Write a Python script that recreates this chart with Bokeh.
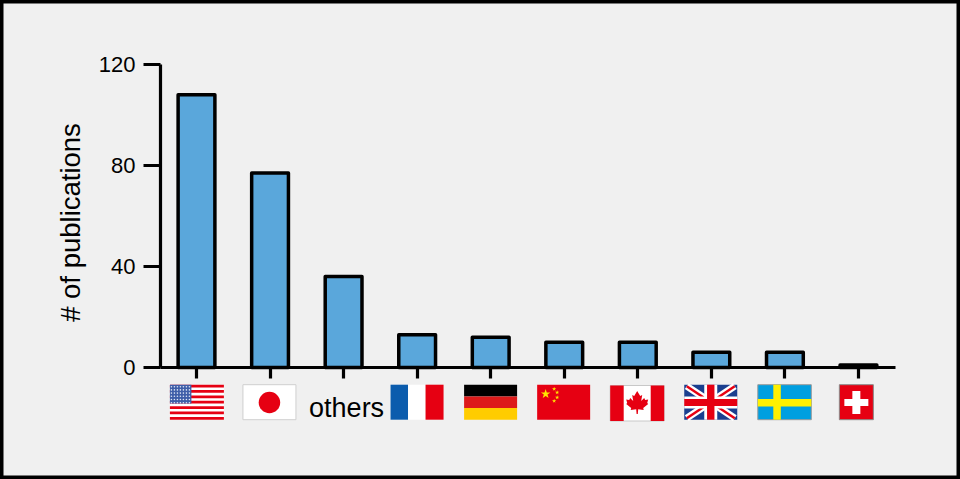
from bokeh.plotting import figure
from bokeh.models import Range1d, LinearAxis, FixedTicker
from bokeh.embed import file_html
from bokeh.resources import INLINE
from bokeh.core.properties import value
import math

countries = ["USA", "Japan", "others", "France", "Germany", "China", "Canada", "UK", "Sweden", "Switzerland"]
publications = [108, 77, 36, 13, 12, 10, 10, 6, 6, 1]
y_ticks = [0, 40, 80, 120]
other_label = "others"
y_title = "# of publications"

BG = "#f0f0f0"; BLUE = "#5aa7db"
W, H = 960, 479
X0, XS = 196.0, 73.55      # pixel of index 0, pixels per index
Y0, YS = 367.0, 2.525      # pixel of value 0, pixels per value

p = figure(width=W, height=H, output_backend="svg", toolbar_location=None,
           x_range=Range1d(-X0 / XS, (W - X0) / XS),
           y_range=Range1d(-(H - Y0) / YS, Y0 / YS),
           min_border=0, min_border_left=0, min_border_right=0, min_border_top=0, min_border_bottom=0,
           x_axis_type=None, y_axis_type=None, background_fill_color=BG, border_fill_color=BG)
p.grid.visible = False
p.outline_line_color = "black"
p.outline_line_width = 6

p.vbar(x=list(range(len(publications))), top=publications, bottom=0, width=0.5,
       fill_color=BLUE, line_color="black", line_width=3.5, line_join="round")

yaxis = LinearAxis(fixed_location=-36 / XS, ticker=FixedTicker(ticks=y_ticks), bounds=(0, 120),
                   axis_line_width=3.2, axis_line_color="black",
                   major_tick_line_width=3.2, major_tick_line_color="black",
                   major_tick_in=0, major_tick_out=17, minor_tick_line_color=None,
                   major_label_text_font="Liberation Sans", major_label_text_font_size="22px",
                   major_label_text_color="black", major_label_standoff=8)
p.add_layout(yaxis, "left")

p.text(x=[(70 - X0) / XS], y=[(Y0 - 222) / YS], text=[y_title], angle=math.pi / 2,
       text_font=value("Liberation Sans"), text_font_size="27.5px", text_color="black",
       text_align="center", text_baseline="middle")

xaxis = LinearAxis(fixed_location=0, ticker=FixedTicker(ticks=list(range(len(countries)))),
                   bounds=(-36 / XS, 9.5),
                   major_label_overrides={i: "" for i in range(len(countries))},
                   axis_line_width=3.2, axis_line_color="black",
                   major_tick_line_width=3.2, major_tick_line_color="black",
                   major_tick_in=0, major_tick_out=11, minor_tick_line_color=None)
p.add_layout(xaxis, "below")

p.text(x=[countries.index(other_label)], y=[-(407.5 - Y0) / YS], text=[other_label], x_offset=3,
       text_font=value("Liberation Sans"), text_font_size="27px", text_color="black",
       text_align="center", text_baseline="middle")

# ---- flags: shapes given in pixels relative to the flag's tick -------------
FT, FB = 384.2, 419.2
SHIFT = -0.6

def box(i, dx0, dx1, py0, py1, color, line=None):
    p.quad(left=[i + (dx0 + SHIFT) / XS], right=[i + (dx1 + SHIFT) / XS],
           bottom=[(Y0 - py1) / YS], top=[(Y0 - py0) / YS],
           fill_color=color, line_color=line, line_width=1)

def poly(i, pts, color):
    p.patch([i + (a + SHIFT) / XS for a, b in pts], [(Y0 - b) / YS for a, b in pts],
            fill_color=color, line_color=None)

RED = "#e60012"
# USA
i = 0
box(i, -26, 28, FT, FB, "white")
for s in range(0, 13, 2):
    h = (FB - FT) / 13
    box(i, -26, 28, FT + s * h, FT + (s + 1) * h, RED)
box(i, -26, -4.5, FT, FT + 7 * (FB - FT) / 13, "#3f5ea8")
sx, sy = [], []
for r in range(6):
    for c in range(7):
        sx.append(i + (-24.5 + SHIFT + c * 3.0) / XS)
        sy.append((Y0 - (FT + 2 + r * 3.2)) / YS)
p.scatter(sx, sy, size=1.6, color="#dfe6f5", line_color=None)

# Japan
i = 1
box(i, -26.5, 26.5, FT, FB, "white", "#cfcfcf")
p.scatter([i + SHIFT / XS], [(Y0 - 402) / YS], size=21.5, color=RED, line_color=None)

# France
i = 3
box(i, -26, -8.5, FT, FB, "#0b5cad")
box(i, -8.5, 9, FT, FB, "white")
box(i, 9, 27, FT, FB, RED)

# Germany
i = 4
box(i, -26, 27, FT, FT + 11.7, "black")
box(i, -26, 27, FT + 11.7, FT + 23.3, "#dd1a1a")
box(i, -26, 27, FT + 23.3, FB, "#ffcc00")

# China
i = 5
box(i, -26.5, 26.5, FT, FB, RED)
p.scatter([i + (-18 + SHIFT) / XS], [(Y0 - 393.5) / YS], marker="star", size=10, color="#ffe600", line_color=None)
p.scatter([i + (d + SHIFT) / XS for d in (-9.5, -6.5, -6.5, -9.5)],
          [(Y0 - q) / YS for q in (388.5, 392, 397, 400.5)],
          marker="star", size=4.5, color="#ffe600", line_color=None)

# Canada
i = 6
box(i, -27, 27, 385, 420.5, "white", "#c8c8c8")
box(i, -27, -13.5, 385, 420.5, RED)
box(i, 13.5, 27, 385, 420.5, RED)
cy = 402.5
leaf_right = [(0, -12), (3, -7), (5, -8), (4, -2), (7, -5), (8, -3), (11, -3.5), (10, 0), (11, 1),
              (6, 5), (6.5, 7), (1, 6.3), (0.6, 11)]
leaf = [(a, cy + b) for a, b in leaf_right] + [(-a, cy + b) for a, b in reversed(leaf_right)]
poly(i, leaf, RED)

# UK
i = 7
L, R = -26.5, 26.5
box(i, L, R, FT, FB, "#1a3f8f")
def diag(i, x0, y0, x1, y1, w, color):
    d = math.hypot(x1 - x0, y1 - y0)
    nx, ny = -(y1 - y0) / d * w / 2, (x1 - x0) / d * w / 2
    poly(i, [(x0 + nx, y0 + ny), (x1 + nx, y1 + ny), (x1 - nx, y1 - ny), (x0 - nx, y0 - ny)], color)
diag(i, L + 2.5, FT + 1.5, R - 2.5, FB - 1.5, 7, "white")
diag(i, L + 2.5, FB - 1.5, R - 2.5, FT + 1.5, 7, "white")
diag(i, L + 2.5, FT + 1.5, R - 2.5, FB - 1.5, 2.4, "#e60012")
diag(i, L + 2.5, FB - 1.5, R - 2.5, FT + 1.5, 2.4, "#e60012")
box(i, L, R, 396, 408, "white")
box(i, -6.5, 6.5, FT, FB, "white")
box(i, L, R, 398.5, 405.5, RED)
box(i, -3.7, 3.7, FT, FB, RED)

# Sweden
i = 8
box(i, -26.5, 27, FT, FB, "#009fe0", "#9a9a9a")
box(i, -11, -3.5, FT, FB, "#fff000")
box(i, -26.5, 27, 398.5, 406, "#fff000")

# Switzerland
i = 9
box(i, -18.5, 15.5, FT, FB, "#e60012", "#8a8a8a")
box(i, -5.5, 2.5, 390.5, 413.5, "white")
box(i, -13.5, 10.5, 398.5, 405.5, "white")

open("out.html", "w").write(file_html(p, INLINE))
